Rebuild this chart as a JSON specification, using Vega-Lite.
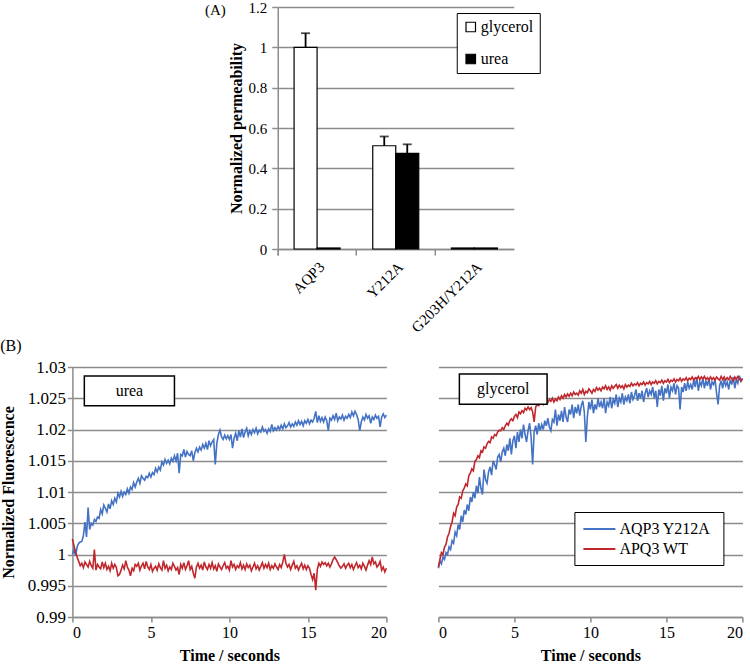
{
"$schema": "https://vega.github.io/schema/vega-lite/v6.json",
"padding": {"left": 0, "top": 0, "right": 0, "bottom": 0},
"background": "white",
"config": {
  "view": {"stroke": null},
  "font": "Liberation Serif, Times New Roman, serif",
  "axis": {"labelFont": "Liberation Serif, Times New Roman, serif", "titleFont": "Liberation Serif, Times New Roman, serif", "labelColor": "black", "titleColor": "black", "domainColor": "#8c8c8c", "tickColor": "#8c8c8c", "gridColor": "#8c8c8c", "domainWidth": 1.5, "tickWidth": 1.5, "gridWidth": 1.5, "titleFontWeight": "bold", "titleFontSize": 16, "labelFontSize": 15, "labelOverlap": false},
  "legend": {"labelFont": "Liberation Serif, Times New Roman, serif", "labelColor": "black"},
  "title": {"font": "Liberation Serif, Times New Roman, serif", "fontWeight": "normal", "fontSize": 16, "color": "black"},
  "text": {"font": "Liberation Serif, Times New Roman, serif"}
},
"datasets": {
  "perm": [
    {"construct": "AQP3", "substance": "glycerol", "value": 1.0, "hi": 1.07},
    {"construct": "AQP3", "substance": "urea", "value": 0.005, "hi": null},
    {"construct": "Y212A", "substance": "glycerol", "value": 0.512, "hi": 0.558},
    {"construct": "Y212A", "substance": "urea", "value": 0.474, "hi": 0.519},
    {"construct": "G203H/Y212A", "substance": "glycerol", "value": 0.005, "hi": null},
    {"construct": "G203H/Y212A", "substance": "urea", "value": 0.005, "hi": null}
  ],
  "urea": [
{"t":0,"y212a":1.0000,"wt":1.0025},{"t":0.1,"y212a":1.0008,"wt":1.0014},{"t":0.2,"y212a":0.9998,"wt":1.0004},{"t":0.3,"y212a":1.0012,"wt":0.9996},{"t":0.4,"y212a":1.0018,"wt":0.9989},
{"t":0.5,"y212a":1.0020,"wt":0.9982},{"t":0.6,"y212a":1.0021,"wt":0.9986},{"t":0.7,"y212a":1.0030,"wt":0.9979},{"t":0.8,"y212a":1.0052,"wt":0.9988},{"t":0.9,"y212a":1.0028,"wt":0.9984},
{"t":1.0,"y212a":1.0075,"wt":0.9980},{"t":1.1,"y212a":1.0040,"wt":0.9989},{"t":1.2,"y212a":1.0050,"wt":0.9982},{"t":1.3,"y212a":1.0047,"wt":0.9978},{"t":1.4,"y212a":1.0056,"wt":1.0008},
{"t":1.5,"y212a":1.0053,"wt":0.9975},{"t":1.6,"y212a":1.0060,"wt":0.9984},{"t":1.7,"y212a":1.0058,"wt":0.9980},{"t":1.8,"y212a":1.0072,"wt":0.9977},{"t":1.9,"y212a":1.0065,"wt":0.9988},
{"t":2.0,"y212a":1.0079,"wt":0.9979},{"t":2.1,"y212a":1.0074,"wt":0.9986},{"t":2.2,"y212a":1.0068,"wt":0.9976},{"t":2.3,"y212a":1.0081,"wt":0.9981},{"t":2.4,"y212a":1.0073,"wt":0.9974},
{"t":2.5,"y212a":1.0086,"wt":0.9986},{"t":2.6,"y212a":1.0080,"wt":0.9978},{"t":2.7,"y212a":1.0090,"wt":0.9984},{"t":2.8,"y212a":1.0084,"wt":0.9979},{"t":2.9,"y212a":1.0098,"wt":0.9966},
{"t":3.0,"y212a":1.0092,"wt":0.9968},{"t":3.1,"y212a":1.0101,"wt":0.9975},{"t":3.2,"y212a":1.0093,"wt":0.9983},{"t":3.3,"y212a":1.0100,"wt":0.9977},{"t":3.4,"y212a":1.0096,"wt":0.9990},
{"t":3.5,"y212a":1.0105,"wt":0.9980},{"t":3.6,"y212a":1.0098,"wt":0.9975},{"t":3.7,"y212a":1.0108,"wt":0.9966},{"t":3.8,"y212a":1.0104,"wt":0.9978},{"t":3.9,"y212a":1.0115,"wt":0.9974},
{"t":4.0,"y212a":1.0108,"wt":0.9984},{"t":4.1,"y212a":1.0116,"wt":0.9981},{"t":4.2,"y212a":1.0122,"wt":0.9986},{"t":4.3,"y212a":1.0114,"wt":0.9975},{"t":4.4,"y212a":1.0126,"wt":0.9982},
{"t":4.5,"y212a":1.0122,"wt":0.9986},{"t":4.6,"y212a":1.0119,"wt":0.9977},{"t":4.7,"y212a":1.0125,"wt":0.9989},{"t":4.8,"y212a":1.0123,"wt":0.9980},{"t":4.9,"y212a":1.0130,"wt":0.9976},
{"t":5.0,"y212a":1.0124,"wt":0.9984},{"t":5.1,"y212a":1.0131,"wt":0.9973},{"t":5.2,"y212a":1.0128,"wt":0.9978},{"t":5.3,"y212a":1.0138,"wt":0.9981},{"t":5.4,"y212a":1.0132,"wt":0.9975},
{"t":5.5,"y212a":1.0140,"wt":0.9985},{"t":5.6,"y212a":1.0135,"wt":0.9979},{"t":5.7,"y212a":1.0148,"wt":0.9975},{"t":5.8,"y212a":1.0143,"wt":0.9990},{"t":5.9,"y212a":1.0152,"wt":0.9978},
{"t":6.0,"y212a":1.0146,"wt":0.9983},{"t":6.1,"y212a":1.0151,"wt":0.9974},{"t":6.2,"y212a":1.0145,"wt":0.9980},{"t":6.3,"y212a":1.0154,"wt":0.9976},{"t":6.4,"y212a":1.0149,"wt":0.9986},
{"t":6.5,"y212a":1.0158,"wt":0.9981},{"t":6.6,"y212a":1.0150,"wt":0.9975},{"t":6.7,"y212a":1.0162,"wt":0.9979},{"t":6.8,"y212a":1.0130,"wt":0.9968},{"t":6.9,"y212a":1.0160,"wt":0.9984},
{"t":7.0,"y212a":1.0158,"wt":0.9978},{"t":7.1,"y212a":1.0168,"wt":0.9987},{"t":7.2,"y212a":1.0156,"wt":0.9976},{"t":7.3,"y212a":1.0165,"wt":0.9982},{"t":7.4,"y212a":1.0160,"wt":0.9990},
{"t":7.5,"y212a":1.0158,"wt":0.9976},{"t":7.6,"y212a":1.0166,"wt":0.9981},{"t":7.7,"y212a":1.0150,"wt":0.9970},{"t":7.8,"y212a":1.0163,"wt":0.9962},{"t":7.9,"y212a":1.0170,"wt":0.9980},
{"t":8.0,"y212a":1.0164,"wt":0.9986},{"t":8.1,"y212a":1.0172,"wt":0.9978},{"t":8.2,"y212a":1.0167,"wt":0.9983},{"t":8.3,"y212a":1.0176,"wt":0.9975},{"t":8.4,"y212a":1.0170,"wt":0.9988},
{"t":8.5,"y212a":1.0178,"wt":0.9980},{"t":8.6,"y212a":1.0168,"wt":0.9976},{"t":8.7,"y212a":1.0182,"wt":0.9984},{"t":8.8,"y212a":1.0174,"wt":0.9978},{"t":8.9,"y212a":1.0180,"wt":0.9987},
{"t":9.0,"y212a":1.0184,"wt":0.9977},{"t":9.1,"y212a":1.0144,"wt":0.9982},{"t":9.2,"y212a":1.0178,"wt":0.9973},{"t":9.3,"y212a":1.0192,"wt":0.9985},{"t":9.4,"y212a":1.0199,"wt":0.9980},
{"t":9.5,"y212a":1.0188,"wt":0.9976},{"t":9.6,"y212a":1.0184,"wt":0.9982},{"t":9.7,"y212a":1.0191,"wt":0.9987},{"t":9.8,"y212a":1.0185,"wt":0.9978},{"t":9.9,"y212a":1.0190,"wt":0.9981},
{"t":10.0,"y212a":1.0184,"wt":0.9975},{"t":10.1,"y212a":1.0192,"wt":0.9990},{"t":10.2,"y212a":1.0170,"wt":0.9980},{"t":10.3,"y212a":1.0186,"wt":0.9984},{"t":10.4,"y212a":1.0194,"wt":0.9976},
{"t":10.5,"y212a":1.0182,"wt":0.9982},{"t":10.6,"y212a":1.0198,"wt":0.9979},{"t":10.7,"y212a":1.0188,"wt":0.9987},{"t":10.8,"y212a":1.0201,"wt":0.9977},{"t":10.9,"y212a":1.0187,"wt":0.9983},
{"t":11.0,"y212a":1.0196,"wt":0.9976},{"t":11.1,"y212a":1.0202,"wt":0.9985},{"t":11.2,"y212a":1.0190,"wt":0.9979},{"t":11.3,"y212a":1.0198,"wt":0.9983},{"t":11.4,"y212a":1.0192,"wt":0.9974},
{"t":11.5,"y212a":1.0200,"wt":0.9980},{"t":11.6,"y212a":1.0195,"wt":0.9986},{"t":11.7,"y212a":1.0202,"wt":0.9977},{"t":11.8,"y212a":1.0193,"wt":0.9982},{"t":11.9,"y212a":1.0199,"wt":0.9975},
{"t":12.0,"y212a":1.0196,"wt":0.9981},{"t":12.1,"y212a":1.0204,"wt":0.9987},{"t":12.2,"y212a":1.0197,"wt":0.9978},{"t":12.3,"y212a":1.0200,"wt":0.9984},{"t":12.4,"y212a":1.0194,"wt":0.9979},
{"t":12.5,"y212a":1.0201,"wt":0.9986},{"t":12.6,"y212a":1.0197,"wt":0.9976},{"t":12.7,"y212a":1.0208,"wt":0.9982},{"t":12.8,"y212a":1.0198,"wt":0.9978},{"t":12.9,"y212a":1.0203,"wt":0.9985},
{"t":13.0,"y212a":1.0199,"wt":0.9980},{"t":13.1,"y212a":1.0205,"wt":0.9976},{"t":13.2,"y212a":1.0200,"wt":0.9984},{"t":13.3,"y212a":1.0207,"wt":0.9979},{"t":13.4,"y212a":1.0201,"wt":0.9988},
{"t":13.5,"y212a":1.0209,"wt":1.0000},{"t":13.6,"y212a":1.0203,"wt":0.9986},{"t":13.7,"y212a":1.0206,"wt":0.9980},{"t":13.8,"y212a":1.0211,"wt":0.9984},{"t":13.9,"y212a":1.0204,"wt":0.9976},
{"t":14.0,"y212a":1.0209,"wt":0.9983},{"t":14.1,"y212a":1.0205,"wt":0.9989},{"t":14.2,"y212a":1.0212,"wt":0.9978},{"t":14.3,"y212a":1.0207,"wt":0.9982},{"t":14.4,"y212a":1.0214,"wt":0.9975},
{"t":14.5,"y212a":1.0208,"wt":0.9981},{"t":14.6,"y212a":1.0213,"wt":0.9986},{"t":14.7,"y212a":1.0206,"wt":0.9977},{"t":14.8,"y212a":1.0214,"wt":0.9983},{"t":14.9,"y212a":1.0210,"wt":0.9976},
{"t":15.0,"y212a":1.0216,"wt":0.9982},{"t":15.1,"y212a":1.0209,"wt":0.9978},{"t":15.2,"y212a":1.0215,"wt":0.9968},{"t":15.3,"y212a":1.0212,"wt":0.9960},{"t":15.4,"y212a":1.0218,"wt":0.9970},
{"t":15.5,"y212a":1.0229,"wt":0.9943},{"t":15.6,"y212a":1.0211,"wt":0.9976},{"t":15.7,"y212a":1.0222,"wt":0.9986},{"t":15.8,"y212a":1.0213,"wt":0.9981},{"t":15.9,"y212a":1.0219,"wt":0.9988},
{"t":16.0,"y212a":1.0212,"wt":0.9984},{"t":16.1,"y212a":1.0220,"wt":0.9987},{"t":16.2,"y212a":1.0214,"wt":0.9982},{"t":16.3,"y212a":1.0198,"wt":0.9986},{"t":16.4,"y212a":1.0218,"wt":0.9980},
{"t":16.5,"y212a":1.0215,"wt":0.9985},{"t":16.6,"y212a":1.0222,"wt":0.9992},{"t":16.7,"y212a":1.0216,"wt":0.9996},{"t":16.8,"y212a":1.0226,"wt":0.9992},{"t":16.9,"y212a":1.0214,"wt":0.9987},
{"t":17.0,"y212a":1.0220,"wt":0.9982},{"t":17.1,"y212a":1.0217,"wt":0.9978},{"t":17.2,"y212a":1.0223,"wt":0.9981},{"t":17.3,"y212a":1.0215,"wt":0.9985},{"t":17.4,"y212a":1.0221,"wt":0.9978},
{"t":17.5,"y212a":1.0218,"wt":0.9983},{"t":17.6,"y212a":1.0224,"wt":0.9986},{"t":17.7,"y212a":1.0219,"wt":0.9979},{"t":17.8,"y212a":1.0228,"wt":0.9984},{"t":17.9,"y212a":1.0222,"wt":0.9976},
{"t":18.0,"y212a":1.0229,"wt":0.9982},{"t":18.1,"y212a":1.0224,"wt":0.9987},{"t":18.2,"y212a":1.0216,"wt":0.9979},{"t":18.3,"y212a":1.0198,"wt":0.9983},{"t":18.4,"y212a":1.0212,"wt":0.9977},
{"t":18.5,"y212a":1.0220,"wt":0.9986},{"t":18.6,"y212a":1.0215,"wt":0.9981},{"t":18.7,"y212a":1.0224,"wt":0.9975},{"t":18.8,"y212a":1.0218,"wt":0.9983},{"t":18.9,"y212a":1.0222,"wt":0.9990},
{"t":19.0,"y212a":1.0210,"wt":0.9984},{"t":19.1,"y212a":1.0220,"wt":0.9996},{"t":19.2,"y212a":1.0216,"wt":0.9985},{"t":19.3,"y212a":1.0223,"wt":0.9988},{"t":19.4,"y212a":1.0218,"wt":0.9980},
{"t":19.5,"y212a":1.0221,"wt":0.9983},{"t":19.6,"y212a":1.0204,"wt":0.9989},{"t":19.7,"y212a":1.0220,"wt":0.9975},{"t":19.8,"y212a":1.0225,"wt":0.9980},{"t":19.9,"y212a":1.0219,"wt":0.9972},
{"t":20.0,"y212a":1.0223,"wt":0.9978}
  ],
  "glycerol": [
{"t":0,"y212a":0.9978,"wt":0.9980},{"t":0.1,"y212a":0.9990,"wt":0.9992},{"t":0.2,"y212a":0.9985,"wt":1.0003},{"t":0.3,"y212a":0.9996,"wt":1.0000},{"t":0.4,"y212a":0.9992,"wt":1.0012},
{"t":0.5,"y212a":1.0003,"wt":1.0016},{"t":0.6,"y212a":1.0000,"wt":1.0028},{"t":0.7,"y212a":1.0012,"wt":1.0034},{"t":0.8,"y212a":1.0008,"wt":1.0045},{"t":0.9,"y212a":1.0022,"wt":1.0052},
{"t":1.0,"y212a":1.0018,"wt":1.0066},{"t":1.1,"y212a":1.0036,"wt":1.0062},{"t":1.2,"y212a":1.0030,"wt":1.0076},{"t":1.3,"y212a":1.0048,"wt":1.0080},{"t":1.4,"y212a":1.0040,"wt":1.0092},
{"t":1.5,"y212a":1.0062,"wt":1.0090},{"t":1.6,"y212a":1.0052,"wt":1.0102},{"t":1.7,"y212a":1.0071,"wt":1.0106},{"t":1.8,"y212a":1.0064,"wt":1.0113},{"t":1.9,"y212a":1.0080,"wt":1.0110},
{"t":2.0,"y212a":1.0070,"wt":1.0126},{"t":2.1,"y212a":1.0092,"wt":1.0130},{"t":2.2,"y212a":1.0084,"wt":1.0137},{"t":2.3,"y212a":1.0100,"wt":1.0134},{"t":2.4,"y212a":1.0090,"wt":1.0149},
{"t":2.5,"y212a":1.0110,"wt":1.0152},{"t":2.6,"y212a":1.0098,"wt":1.0158},{"t":2.7,"y212a":1.0124,"wt":1.0155},{"t":2.8,"y212a":1.0106,"wt":1.0166},{"t":2.9,"y212a":1.0096,"wt":1.0164},
{"t":3.0,"y212a":1.0136,"wt":1.0172},{"t":3.1,"y212a":1.0120,"wt":1.0170},{"t":3.2,"y212a":1.0114,"wt":1.0177},{"t":3.3,"y212a":1.0132,"wt":1.0181},{"t":3.4,"y212a":1.0140,"wt":1.0179},
{"t":3.5,"y212a":1.0127,"wt":1.0188},{"t":3.6,"y212a":1.0150,"wt":1.0186},{"t":3.7,"y212a":1.0144,"wt":1.0192},{"t":3.8,"y212a":1.0136,"wt":1.0190},{"t":3.9,"y212a":1.0156,"wt":1.0196},
{"t":4.0,"y212a":1.0160,"wt":1.0199},{"t":4.1,"y212a":1.0148,"wt":1.0198},{"t":4.2,"y212a":1.0164,"wt":1.0203},{"t":4.3,"y212a":1.0170,"wt":1.0200},{"t":4.4,"y212a":1.0158,"wt":1.0206},
{"t":4.5,"y212a":1.0176,"wt":1.0210},{"t":4.6,"y212a":1.0166,"wt":1.0207},{"t":4.7,"y212a":1.0186,"wt":1.0214},{"t":4.8,"y212a":1.0160,"wt":1.0217},{"t":4.9,"y212a":1.0182,"wt":1.0214},
{"t":5.0,"y212a":1.0190,"wt":1.0221},{"t":5.1,"y212a":1.0170,"wt":1.0224},{"t":5.2,"y212a":1.0196,"wt":1.0219},{"t":5.3,"y212a":1.0180,"wt":1.0228},{"t":5.4,"y212a":1.0200,"wt":1.0225},
{"t":5.5,"y212a":1.0186,"wt":1.0230},{"t":5.6,"y212a":1.0208,"wt":1.0227},{"t":5.7,"y212a":1.0192,"wt":1.0234},{"t":5.8,"y212a":1.0180,"wt":1.0231},{"t":5.9,"y212a":1.0198,"wt":1.0236},
{"t":6.0,"y212a":1.0210,"wt":1.0232},{"t":6.1,"y212a":1.0188,"wt":1.0235},{"t":6.2,"y212a":1.0144,"wt":1.0228},{"t":6.3,"y212a":1.0196,"wt":1.0212},{"t":6.4,"y212a":1.0206,"wt":1.0236},
{"t":6.5,"y212a":1.0192,"wt":1.0240},{"t":6.6,"y212a":1.0210,"wt":1.0238},{"t":6.7,"y212a":1.0198,"wt":1.0243},{"t":6.8,"y212a":1.0208,"wt":1.0246},{"t":6.9,"y212a":1.0200,"wt":1.0240},
{"t":7.0,"y212a":1.0214,"wt":1.0244},{"t":7.1,"y212a":1.0206,"wt":1.0246},{"t":7.2,"y212a":1.0218,"wt":1.0243},{"t":7.3,"y212a":1.0204,"wt":1.0248},{"t":7.4,"y212a":1.0198,"wt":1.0245},
{"t":7.5,"y212a":1.0216,"wt":1.0250},{"t":7.6,"y212a":1.0212,"wt":1.0244},{"t":7.7,"y212a":1.0232,"wt":1.0249},{"t":7.8,"y212a":1.0206,"wt":1.0246},{"t":7.9,"y212a":1.0224,"wt":1.0252},
{"t":8.0,"y212a":1.0214,"wt":1.0248},{"t":8.1,"y212a":1.0230,"wt":1.0254},{"t":8.2,"y212a":1.0212,"wt":1.0250},{"t":8.3,"y212a":1.0236,"wt":1.0256},{"t":8.4,"y212a":1.0220,"wt":1.0252},
{"t":8.5,"y212a":1.0212,"wt":1.0257},{"t":8.6,"y212a":1.0232,"wt":1.0253},{"t":8.7,"y212a":1.0224,"wt":1.0258},{"t":8.8,"y212a":1.0240,"wt":1.0254},{"t":8.9,"y212a":1.0218,"wt":1.0260},
{"t":9.0,"y212a":1.0236,"wt":1.0256},{"t":9.1,"y212a":1.0226,"wt":1.0258},{"t":9.2,"y212a":1.0240,"wt":1.0255},{"t":9.3,"y212a":1.0222,"wt":1.0262},{"t":9.4,"y212a":1.0238,"wt":1.0258},
{"t":9.5,"y212a":1.0246,"wt":1.0264},{"t":9.6,"y212a":1.0228,"wt":1.0256},{"t":9.7,"y212a":1.0180,"wt":1.0261},{"t":9.8,"y212a":1.0220,"wt":1.0259},{"t":9.9,"y212a":1.0244,"wt":1.0265},
{"t":10.0,"y212a":1.0232,"wt":1.0262},{"t":10.1,"y212a":1.0248,"wt":1.0258},{"t":10.2,"y212a":1.0226,"wt":1.0264},{"t":10.3,"y212a":1.0240,"wt":1.0261},{"t":10.4,"y212a":1.0232,"wt":1.0267},
{"t":10.5,"y212a":1.0250,"wt":1.0263},{"t":10.6,"y212a":1.0236,"wt":1.0266},{"t":10.7,"y212a":1.0244,"wt":1.0262},{"t":10.8,"y212a":1.0234,"wt":1.0268},{"t":10.9,"y212a":1.0250,"wt":1.0265},
{"t":11.0,"y212a":1.0226,"wt":1.0270},{"t":11.1,"y212a":1.0244,"wt":1.0264},{"t":11.2,"y212a":1.0238,"wt":1.0268},{"t":11.3,"y212a":1.0252,"wt":1.0263},{"t":11.4,"y212a":1.0234,"wt":1.0270},
{"t":11.5,"y212a":1.0248,"wt":1.0266},{"t":11.6,"y212a":1.0242,"wt":1.0269},{"t":11.7,"y212a":1.0256,"wt":1.0272},{"t":11.8,"y212a":1.0236,"wt":1.0266},{"t":11.9,"y212a":1.0250,"wt":1.0271},
{"t":12.0,"y212a":1.0244,"wt":1.0267},{"t":12.1,"y212a":1.0258,"wt":1.0270},{"t":12.2,"y212a":1.0240,"wt":1.0265},{"t":12.3,"y212a":1.0252,"wt":1.0272},{"t":12.4,"y212a":1.0246,"wt":1.0268},
{"t":12.5,"y212a":1.0256,"wt":1.0271},{"t":12.6,"y212a":1.0242,"wt":1.0269},{"t":12.7,"y212a":1.0260,"wt":1.0274},{"t":12.8,"y212a":1.0248,"wt":1.0270},{"t":12.9,"y212a":1.0254,"wt":1.0273},
{"t":13.0,"y212a":1.0264,"wt":1.0271},{"t":13.1,"y212a":1.0246,"wt":1.0275},{"t":13.2,"y212a":1.0258,"wt":1.0270},{"t":13.3,"y212a":1.0250,"wt":1.0274},{"t":13.4,"y212a":1.0262,"wt":1.0272},
{"t":13.5,"y212a":1.0244,"wt":1.0276},{"t":13.6,"y212a":1.0258,"wt":1.0271},{"t":13.7,"y212a":1.0266,"wt":1.0275},{"t":13.8,"y212a":1.0252,"wt":1.0273},{"t":13.9,"y212a":1.0262,"wt":1.0277},
{"t":14.0,"y212a":1.0256,"wt":1.0272},{"t":14.1,"y212a":1.0268,"wt":1.0276},{"t":14.2,"y212a":1.0250,"wt":1.0274},{"t":14.3,"y212a":1.0262,"wt":1.0278},{"t":14.4,"y212a":1.0236,"wt":1.0273},
{"t":14.5,"y212a":1.0264,"wt":1.0277},{"t":14.6,"y212a":1.0254,"wt":1.0275},{"t":14.7,"y212a":1.0270,"wt":1.0279},{"t":14.8,"y212a":1.0246,"wt":1.0274},{"t":14.9,"y212a":1.0266,"wt":1.0278},
{"t":15.0,"y212a":1.0258,"wt":1.0276},{"t":15.1,"y212a":1.0272,"wt":1.0280},{"t":15.2,"y212a":1.0250,"wt":1.0275},{"t":15.3,"y212a":1.0268,"wt":1.0279},{"t":15.4,"y212a":1.0262,"wt":1.0277},
{"t":15.5,"y212a":1.0274,"wt":1.0281},{"t":15.6,"y212a":1.0256,"wt":1.0276},{"t":15.7,"y212a":1.0270,"wt":1.0280},{"t":15.8,"y212a":1.0266,"wt":1.0278},{"t":15.9,"y212a":1.0232,"wt":1.0282},
{"t":16.0,"y212a":1.0268,"wt":1.0277},{"t":16.1,"y212a":1.0260,"wt":1.0281},{"t":16.2,"y212a":1.0274,"wt":1.0279},{"t":16.3,"y212a":1.0262,"wt":1.0283},{"t":16.4,"y212a":1.0276,"wt":1.0278},
{"t":16.5,"y212a":1.0266,"wt":1.0282},{"t":16.6,"y212a":1.0272,"wt":1.0280},{"t":16.7,"y212a":1.0264,"wt":1.0284},{"t":16.8,"y212a":1.0280,"wt":1.0279},{"t":16.9,"y212a":1.0268,"wt":1.0283},
{"t":17.0,"y212a":1.0284,"wt":1.0281},{"t":17.1,"y212a":1.0262,"wt":1.0285},{"t":17.2,"y212a":1.0276,"wt":1.0280},{"t":17.3,"y212a":1.0270,"wt":1.0284},{"t":17.4,"y212a":1.0282,"wt":1.0281},
{"t":17.5,"y212a":1.0266,"wt":1.0285},{"t":17.6,"y212a":1.0278,"wt":1.0280},{"t":17.7,"y212a":1.0270,"wt":1.0283},{"t":17.8,"y212a":1.0282,"wt":1.0279},{"t":17.9,"y212a":1.0264,"wt":1.0284},
{"t":18.0,"y212a":1.0276,"wt":1.0280},{"t":18.1,"y212a":1.0272,"wt":1.0283},{"t":18.2,"y212a":1.0280,"wt":1.0279},{"t":18.3,"y212a":1.0258,"wt":1.0284},{"t":18.4,"y212a":1.0240,"wt":1.0281},
{"t":18.5,"y212a":1.0270,"wt":1.0279},{"t":18.6,"y212a":1.0278,"wt":1.0285},{"t":18.7,"y212a":1.0266,"wt":1.0280},{"t":18.8,"y212a":1.0280,"wt":1.0284},{"t":18.9,"y212a":1.0270,"wt":1.0279},
{"t":19.0,"y212a":1.0276,"wt":1.0283},{"t":19.1,"y212a":1.0264,"wt":1.0280},{"t":19.2,"y212a":1.0280,"wt":1.0285},{"t":19.3,"y212a":1.0272,"wt":1.0281},{"t":19.4,"y212a":1.0284,"wt":1.0278},
{"t":19.5,"y212a":1.0266,"wt":1.0284},{"t":19.6,"y212a":1.0280,"wt":1.0280},{"t":19.7,"y212a":1.0274,"wt":1.0285},{"t":19.8,"y212a":1.0286,"wt":1.0282},{"t":19.9,"y212a":1.0278,"wt":1.0277},
{"t":20.0,"y212a":1.0282,"wt":1.0281}
  ]
},
"center": true,
"spacing": 2,
"resolve": {"legend": {"fill": "independent"}, "scale": {"fill": "independent"}},
"vconcat": [
  {
    "title": {"text": "(A)", "anchor": "start", "frame": "bounds", "dx": -23, "dy": 18, "offset": 0, "fontSize": 15},
    "width": 236,
    "height": 242,
    "data": {"name": "perm"},
    "encoding": {
      "x": {"field": "construct", "type": "nominal", "sort": null, "scale": {"paddingInner": 0, "paddingOuter": 0},
            "axis": {"title": null, "labelAngle": -45, "bandPosition": 0, "tickExtra": true, "tickSize": 6, "labelFontSize": 15, "labelPadding": 4}},
      "xOffset": {"field": "substance", "type": "nominal", "sort": null, "scale": {"paddingInner": 0, "paddingOuter": 0.71}}
    },
    "layer": [
      {
        "mark": {"type": "bar", "stroke": "black", "strokeWidth": 1.2},
        "encoding": {
          "y": {"field": "value", "type": "quantitative", "scale": {"domain": [0, 1.2], "nice": false},
                "axis": {"title": "Normalized permeability", "values": [0, 0.2, 0.4, 0.6, 0.8, 1, 1.2], "tickCount": 20, "format": "~g", "tickSize": 6, "labelPadding": 5, "titlePadding": 4, "labelFontSize": 15}},
          "fill": {"field": "substance", "type": "nominal", "scale": {"domain": ["glycerol", "urea"], "range": ["white", "black"]},
                   "legend": {"title": null, "orient": "none", "legendX": 179, "legendY": 6, "symbolType": "square", "symbolSize": 90, "symbolStrokeColor": "black", "symbolStrokeWidth": 1.2, "labelFontSize": 16, "labelOffset": 2, "strokeColor": "black", "fillColor": "white", "padding": 6, "rowPadding": 16}}
        }
      },
      {
        "transform": [{"filter": "datum.hi != null"}],
        "mark": {"type": "rule", "color": "black", "strokeWidth": 1.8},
        "encoding": {"y": {"field": "value", "type": "quantitative"}, "y2": {"field": "hi"}}
      },
      {
        "transform": [{"filter": "datum.hi != null"}],
        "mark": {"type": "tick", "color": "black", "thickness": 1.8, "size": 9},
        "encoding": {"y": {"field": "hi", "type": "quantitative"}}
      }
    ]
  },
  {
    "title": {"text": "(B)", "anchor": "start", "offset": 4, "fontSize": 16},
    "spacing": 44,
    "resolve": {"legend": {"color": "independent"}},
    "hconcat": [
      {
        "width": 314,
        "height": 250,
        "layer": [
          {
            "data": {"name": "urea"},
            "transform": [{"fold": ["y212a", "wt"], "as": ["series", "val"]}],
            "mark": {"type": "line", "strokeWidth": 1.6},
            "encoding": {
              "x": {"field": "t", "type": "quantitative", "scale": {"domain": [0, 20], "nice": false},
                    "axis": {"title": "Time / seconds", "values": [0, 5, 10, 15, 20], "tickCount": 20, "grid": false, "tickSize": 5, "labelFontSize": 16, "labelPadding": 2, "titlePadding": 7}},
              "y": {"field": "val", "type": "quantitative", "scale": {"domain": [0.99, 1.03], "nice": false, "zero": false},
                    "axis": {"title": "Normalized  Fluorescence", "values": [0.99, 0.995, 1, 1.005, 1.01, 1.015, 1.02, 1.025, 1.03], "tickCount": 20, "format": "~g", "tickSize": 5, "labelPadding": 2, "titlePadding": 11, "labelFontSize": 17}},
              "color": {"field": "series", "type": "nominal", "scale": {"domain": ["y212a", "wt"], "range": ["#4472c4", "#c0282d"]}, "legend": null}
            }
          },
          {
            "data": {"values": [{"label": "urea"}]},
            "mark": {"type": "rect", "fill": "white", "stroke": "black", "strokeWidth": 1.5},
            "encoding": {"x": {"datum": 0.76}, "x2": {"datum": 6.5}, "y": {"datum": 1.02856}, "y2": {"datum": 1.02381}}
          },
          {
            "data": {"values": [{"label": "urea"}]},
            "mark": {"type": "text", "fontSize": 16, "color": "black"},
            "encoding": {"x": {"datum": 3.63}, "y": {"datum": 1.02616}, "text": {"field": "label"}}
          }
        ]
      },
      {
        "width": 304,
        "height": 250,
        "layer": [
          {
            "data": {"name": "glycerol"},
            "transform": [{"fold": ["y212a", "wt"], "as": ["series", "val"]}],
            "mark": {"type": "line", "strokeWidth": 1.6},
            "encoding": {
              "x": {"field": "t", "type": "quantitative", "scale": {"domain": [0, 20], "nice": false},
                    "axis": {"title": "Time / seconds", "values": [0, 5, 10, 15, 20], "tickCount": 20, "grid": false, "tickSize": 5, "labelFontSize": 16, "labelPadding": 2, "titlePadding": 7}},
              "y": {"field": "val", "type": "quantitative", "scale": {"domain": [0.99, 1.03], "nice": false, "zero": false},
                    "axis": {"title": null, "values": [0.99, 0.995, 1, 1.005, 1.01, 1.015, 1.02, 1.025, 1.03], "tickCount": 20, "labels": false, "ticks": false, "domain": false}},
              "color": {"field": "series", "type": "nominal", "scale": {"domain": ["y212a", "wt"], "range": ["#4472c4", "#c0282d"]},
                        "legend": {"title": null, "orient": "none", "legendX": 136, "legendY": 145, "symbolType": "M-1,0L3,0", "symbolSize": 256, "symbolStrokeWidth": 2, "labelFontSize": 16, "labelOffset": 19, "labelExpr": "datum.value == 'y212a' ? 'AQP3  Y212A' : 'APQ3  WT'", "strokeColor": "black", "fillColor": "white", "padding": 8, "rowPadding": 3}}
            }
          },
          {
            "data": {"values": [{"label": "glycerol"}]},
            "mark": {"type": "rect", "fill": "white", "stroke": "black", "strokeWidth": 1.5},
            "encoding": {"x": {"datum": 1.38}, "x2": {"datum": 7.15}, "y": {"datum": 1.02888}, "y2": {"datum": 1.02403}}
          },
          {
            "data": {"values": [{"label": "glycerol"}]},
            "mark": {"type": "text", "fontSize": 16, "color": "black"},
            "encoding": {"x": {"datum": 4.27}, "y": {"datum": 1.02648}, "text": {"field": "label"}}
          }
        ]
      }
    ]
  }
]
}
